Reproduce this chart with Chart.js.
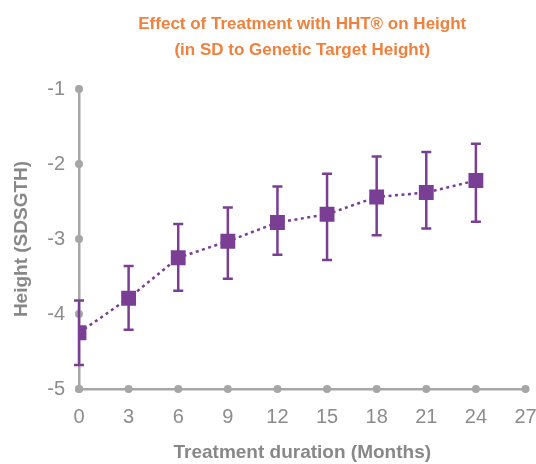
<!DOCTYPE html>
<html>
<head>
<meta charset="utf-8">
<script src="https://cdn.jsdelivr.net/npm/chart.js@4/dist/chart.umd.min.js"></script>
<style>
  html, body { margin: 0; padding: 0; background: #fff; }
  #wrap { width: 536px; height: 464px; }
</style>
</head>
<body>
<div id="wrap"><canvas id="heightChart"></canvas></div>
<script>
"use strict";

// Data
var months = [0, 3, 6, 9, 12, 15, 18, 21, 24];
var meanSD = [-4.25, -3.79, -3.25, -3.03, -2.78, -2.67, -2.44, -2.38, -2.22];
var upperSD = [-3.82, -3.36, -2.80, -2.58, -2.30, -2.13, -1.90, -1.84, -1.73];
var lowerSD = [-4.68, -4.21, -3.69, -3.53, -3.21, -3.28, -2.95, -2.86, -2.77];
var xTicks = [0, 3, 6, 9, 12, 15, 18, 21, 24, 27];
var yTicks = [-1, -2, -3, -4, -5];

var purple = "rgb(122, 62, 148)";
var axisGray = "rgb(166, 166, 166)";
var textGray = "rgb(140, 140, 140)";
var titleGray = "rgb(136, 136, 136)";
var orange = "rgb(240, 128, 60)";
var fontFamily = "'Liberation Sans', Arial, sans-serif";

// Gray dots on every axis tick
var axisDots = {
    id: "axisDots",
    beforeDatasetsDraw: function(chart) {
        var ctx = chart.ctx;
        var xs = chart.scales.x;
        var ys = chart.scales.y;
        ctx.save();
        ctx.fillStyle = axisGray;
        xTicks.forEach(function(t) {
            ctx.beginPath();
            ctx.arc(xs.getPixelForValue(t), ys.getPixelForValue(-5), 4, 0, Math.PI * 2);
            ctx.fill();
        });
        yTicks.forEach(function(t) {
            ctx.beginPath();
            ctx.arc(xs.getPixelForValue(0), ys.getPixelForValue(t), 4, 0, Math.PI * 2);
            ctx.fill();
        });
        ctx.restore();
    }
};

// Vertical error bars with caps
var errorBars = {
    id: "errorBars",
    beforeDatasetsDraw: function(chart) {
        var ctx = chart.ctx;
        var xs = chart.scales.x;
        var ys = chart.scales.y;
        ctx.save();
        ctx.strokeStyle = purple;
        ctx.lineWidth = 2.5;
        for (let i = 0; i < months.length; i++) {
            var px = xs.getPixelForValue(months[i]);
            var top = ys.getPixelForValue(upperSD[i]);
            var bot = ys.getPixelForValue(lowerSD[i]);
            ctx.beginPath();
            ctx.moveTo(px, top);
            ctx.lineTo(px, bot);
            ctx.moveTo(px - 5, top);
            ctx.lineTo(px + 5, top);
            ctx.moveTo(px - 5, bot);
            ctx.lineTo(px + 5, bot);
            ctx.stroke();
        }
        ctx.restore();
    }
};

var points = months.map(function(m, i) { return { x: m, y: meanSD[i] }; });

var config = {
    type: "line",
    data: {
        datasets: [{
            data: points,
            borderColor: purple,
            borderWidth: 2.5,
            borderDash: [3, 3.5],
            backgroundColor: purple,
            pointStyle: "rect",
            pointRadius: 10.5,
            pointHoverRadius: 10.5,
            pointBorderWidth: 0,
            fill: false,
            tension: 0
        }]
    },
    options: {
        responsive: true,
        maintainAspectRatio: false,
        animation: false,
        layout: {
            padding: { left: 10, right: 7, top: 0, bottom: 0 }
        },
        plugins: {
            legend: { display: false },
            tooltip: { enabled: false },
            title: {
                display: true,
                fullSize: false,
                text: ["Effect of Treatment with HHT\u00ae on Height", "(in SD to Genetic Target Height)"],
                color: orange,
                font: { family: fontFamily, size: 17, weight: "bold", lineHeight: 1.53 },
                padding: { top: 11, bottom: 26 }
            }
        },
        scales: {
            x: {
                type: "linear",
                min: 0,
                max: 27,
                afterBuildTicks: function(scale) {
                    scale.ticks = xTicks.map(function(v) { return { value: v }; });
                },
                afterFit: function(scale) {
                    scale.height = 75;
                    scale.paddingLeft = 0;
                    scale.paddingRight = 0;
                },
                grid: { display: false, drawTicks: false },
                border: { display: true, color: axisGray, width: 2.5 },
                ticks: {
                    color: textGray,
                    padding: 16,
                    maxRotation: 0,
                    font: { family: fontFamily, size: 20 }
                },
                title: {
                    display: true,
                    text: "Treatment duration (Months)",
                    color: titleGray,
                    font: { family: fontFamily, size: 19, weight: "bold" },
                    padding: { top: 11, bottom: 0 }
                }
            },
            y: {
                min: -5,
                max: -1,
                afterBuildTicks: function(scale) {
                    scale.ticks = yTicks.map(function(v) { return { value: v }; });
                },
                afterFit: function(scale) { scale.width = 69; },
                grid: { display: false, drawTicks: false },
                border: { display: true, color: axisGray, width: 2.5 },
                ticks: {
                    color: textGray,
                    padding: 14,
                    font: { family: fontFamily, size: 20 }
                },
                title: {
                    display: true,
                    text: "Height (SDSGTH)",
                    color: titleGray,
                    font: { family: fontFamily, size: 19, weight: "bold" },
                    padding: { top: 0, bottom: 0 }
                }
            }
        }
    },
    plugins: [axisDots, errorBars]
};

window.onload = function() {
    var ctx = document.getElementById("heightChart").getContext("2d");
    new Chart(ctx, config);
};
</script>
</body>
</html>
